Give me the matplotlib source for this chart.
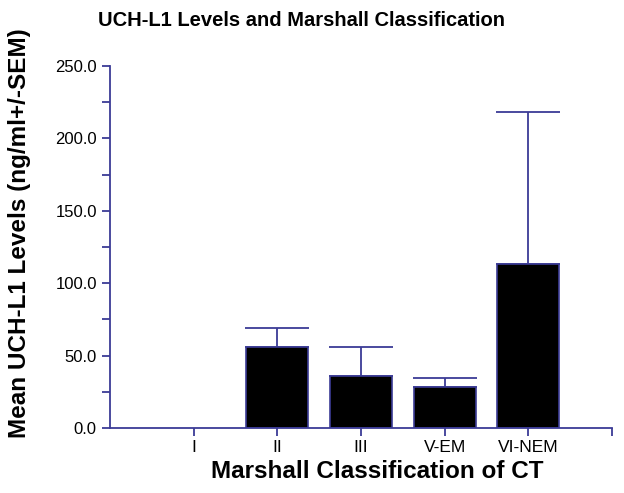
import matplotlib
matplotlib.use('Agg')
import matplotlib.pyplot as plt
import numpy as np

plt.rcParams['font.family'] = ['Liberation Sans', 'DejaVu Sans']

categories = ['I', 'II', 'III', 'V-EM', 'VI-NEM']
means = [0.0, 56.0, 35.9, 28.3, 113.6]
sem = [0.0, 13.4, 19.7, 6.3, 104.6]

axis_col = '#3c3c96'

fig = plt.figure(figsize=(6.24, 4.93), dpi=100)
ax = fig.add_axes([110 / 624, 1 - 428 / 493, 502 / 624, 362 / 493])

x = np.arange(len(categories))
ax.bar(x[1:], means[1:], width=0.74, color='black', edgecolor=axis_col, linewidth=1.2, zorder=2)
ax.errorbar(x[1:], means[1:], yerr=[np.zeros(len(x) - 1), sem[1:]], fmt='none',
            ecolor=axis_col, elinewidth=1.3, capsize=23, capthick=1.3, zorder=1)

ax.set_xlim(-1, 5)
ax.set_ylim(0, 250)
ax.set_xticks(list(x) + [5])
ax.set_xticklabels(categories + [''])
ax.set_yticks(np.arange(0, 251, 50))
ax.set_yticklabels([f'{v:.1f}' for v in np.arange(0, 251, 50)])
ax.set_yticks(np.arange(25, 250, 50), minor=True)

for s in ['top', 'right']:
    ax.spines[s].set_visible(False)
for s in ['left', 'bottom']:
    ax.spines[s].set_color(axis_col)
    ax.spines[s].set_linewidth(1.3)

ax.tick_params(axis='both', which='both', colors=axis_col, labelcolor='black',
               length=6, width=1.3, direction='out', labelsize=12)
ax.tick_params(axis='y', which='minor', length=6)
ax.tick_params(axis='x', pad=3, labelsize=12.5)

fig.text(377 / 624, 1 - 472 / 493, 'Marshall Classification of CT',
         ha='center', va='center', fontsize=17.5, fontweight='bold')
fig.text(20 / 624, 1 - 233 / 493, 'Mean UCH-L1 Levels (ng/ml+/-SEM)', rotation=90,
         ha='center', va='center', fontsize=17.5, fontweight='bold')
fig.text(302 / 624, 1 - 20 / 493, 'UCH-L1 Levels and Marshall Classification',
         ha='center', va='center', fontsize=14.5, fontweight='bold')

fig.savefig('out.png', dpi=100)
